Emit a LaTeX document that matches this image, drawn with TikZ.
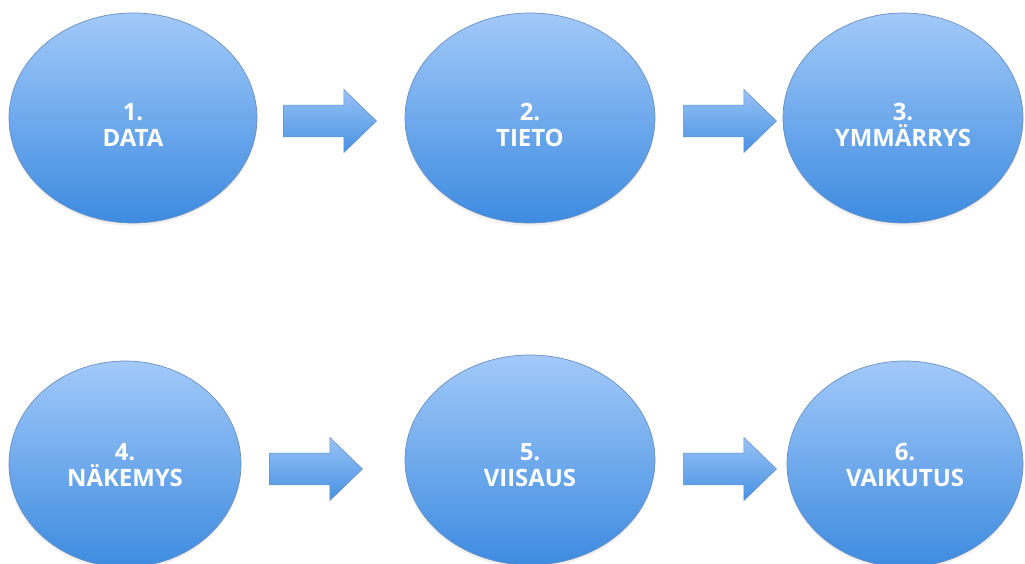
\documentclass[tikz,border=0pt]{standalone}
\usepackage{fontspec}
\setsansfont{Open Sans}
\usetikzlibrary{shapes.geometric,shapes.arrows,shadows}

\definecolor{balltop}{HTML}{A2C9F9}
\definecolor{ballbot}{HTML}{3D8BE0}
\definecolor{ballline}{HTML}{6B8FC0}

\tikzset{
  ball/.style={ellipse, draw=ballline, line width=0.5pt, top color=balltop,
    bottom color=ballbot, inner sep=0pt,
    drop shadow={opacity=0.12, shadow xshift=0pt, shadow yshift=-2pt}},
  balltext/.style={align=center, text=white,
    font=\sffamily\bfseries\fontsize{17}{18.6}\selectfont},
  blockarrow/.style={single arrow, draw=ballline, line width=0.4pt,
    top color=balltop!90!ballbot, bottom color=ballbot!90!balltop,
    shading angle=0, minimum height=2.33cm, inner sep=0.39cm,
    single arrow head extend=0.39cm, single arrow tip angle=88,
    anchor=tail}
}

\begin{document}
\begin{tikzpicture}[x=0.025cm,y=-0.025cm]
\useasboundingbox (0,0) rectangle (1025,564);
\foreach \n/\x/\y/\w/\h/\s/\t in {1/133/118/248/210/7/{1.\\DATA},
  2/530/118/250/210/7/{2.\\TIETO}, 3/903/118/240/210/7/{3.\\YMMÄRRYS},
  4/125/464/232/206/1/{4.\\NÄKEMYS}, 5/530/460/250/210/5/{5.\\VIISAUS},
  6/905/464/236/206/1/{6.\\VAIKUTUS}}{
\node[ball, minimum width=\w*0.025cm, minimum height=\h*0.025cm] (b\n) at (\x,\y) {};
\node[balltext] (t\n) at ([yshift=-\s*0.025cm]b\n.center) {\t};
}
\node[blockarrow] (a12) at (283,121) {};
\node[blockarrow] (a23) at (683,121) {};
\node[blockarrow] (a45) at (269,469) {};
\node[blockarrow] (a56) at (683,469) {};
\end{tikzpicture}
\end{document}
